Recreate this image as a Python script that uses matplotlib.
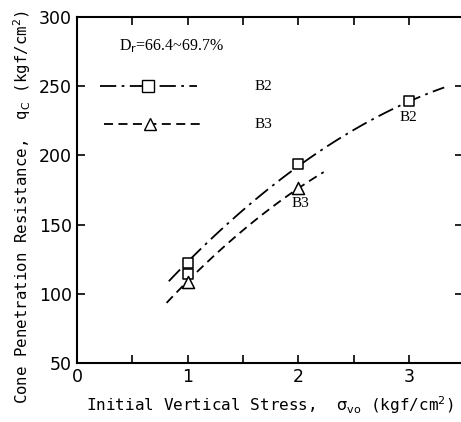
import matplotlib.pyplot as plt
import numpy as np

# measured points
b2_x = [1.0, 1.0, 2.0, 3.0]
b2_y = [122, 114.5, 194, 239.5]
b3_x = [1.0, 2.0]
b3_y = [108.5, 176.5]

# trend curves
b2_cx = [0.83, 1.0, 1.5, 2.0, 2.5, 3.0, 3.32]
b2_cy = [110, 122, 160, 193, 218, 239, 249]
b3_cx = [0.81, 1.0, 1.5, 2.0, 2.23]
b3_cy = [93.5, 109, 146, 176, 188]

fig = plt.figure(figsize=(4.61, 4.22), dpi=100)
ax = fig.add_axes([77 / 461, 59 / 422, 386 / 461, 346 / 422])

dashdot = (0, (9, 3, 1.5, 3))
dashed = (0, (5, 3))

p2 = np.polyfit(b2_cx, b2_cy, 2)
xx = np.linspace(b2_cx[0], b2_cx[-1], 100)
ax.plot(xx, np.polyval(p2, xx), c="k", lw=1.3, ls=dashdot)
p3 = np.polyfit(b3_cx, b3_cy, 2)
xx = np.linspace(b3_cx[0], b3_cx[-1], 100)
ax.plot(xx, np.polyval(p3, xx), c="k", lw=1.3, ls=dashed)

ax.scatter(b2_x, b2_y, marker="s", s=60, facecolors="white", edgecolors="k", lw=1.1, zorder=3)
ax.scatter(b3_x, b3_y, marker="^", s=75, facecolors="white", edgecolors="k", lw=1.1, zorder=3)

serif = "Liberation Serif"
ax.text(3.0, 232, "B2", family=serif, fontsize=11, ha="center", va="top")
ax.text(2.02, 170, "B3", family=serif, fontsize=11, ha="center", va="top")

# hand-made legend
tr = ax.transAxes
ax.plot([0.06, 0.31], [0.80, 0.80], c="k", lw=1.3, ls=dashdot, transform=tr)
ax.plot([0.185], [0.80], marker="s", ms=8, mfc="white", mec="k", transform=tr)
ax.plot([0.07, 0.32], [0.69, 0.69], c="k", lw=1.3, ls=dashed, transform=tr)
ax.plot([0.19], [0.69], marker="^", ms=8, mfc="white", mec="k", transform=tr)
ax.text(0.46, 0.80, "B2", family=serif, fontsize=11, va="center", transform=tr)
ax.text(0.46, 0.69, "B3", family=serif, fontsize=11, va="center", transform=tr)
ax.text(0.11, 0.915, r"D$_{\rm r}$=66.4~69.7%", family=serif, fontsize=11.5, va="center", transform=tr)

ax.set_xlim(0, 3.49)
ax.set_ylim(50, 300)
ax.set_xticks([0, 1, 2, 3])
ax.set_xticks([0.5, 1.5, 2.5], minor=True)
ax.set_yticks([50, 100, 150, 200, 250, 300])
ax.tick_params(which="both", direction="in", top=True, right=True, width=1.2, labelsize=12.5)
ax.tick_params(which="major", length=6)
ax.tick_params(which="minor", length=6)
for s in ax.spines.values():
    s.set_linewidth(1.5)

mono = "DejaVu Sans Mono"
ax.set_xlabel(r"Initial Vertical Stress,  $\mathrm{\sigma_{vo}}$ (kgf/cm$^2$)", family=mono, fontsize=11.5)
ax.set_ylabel(r"Cone Penetration Resistance,  q$_{\rm C}$ (kgf/cm$^2$)", family=mono, fontsize=11.3)
ax.yaxis.set_label_coords(-0.115, 0.45)
ax.xaxis.set_label_coords(0.5, -0.09)

plt.savefig("out.png", dpi=100)
